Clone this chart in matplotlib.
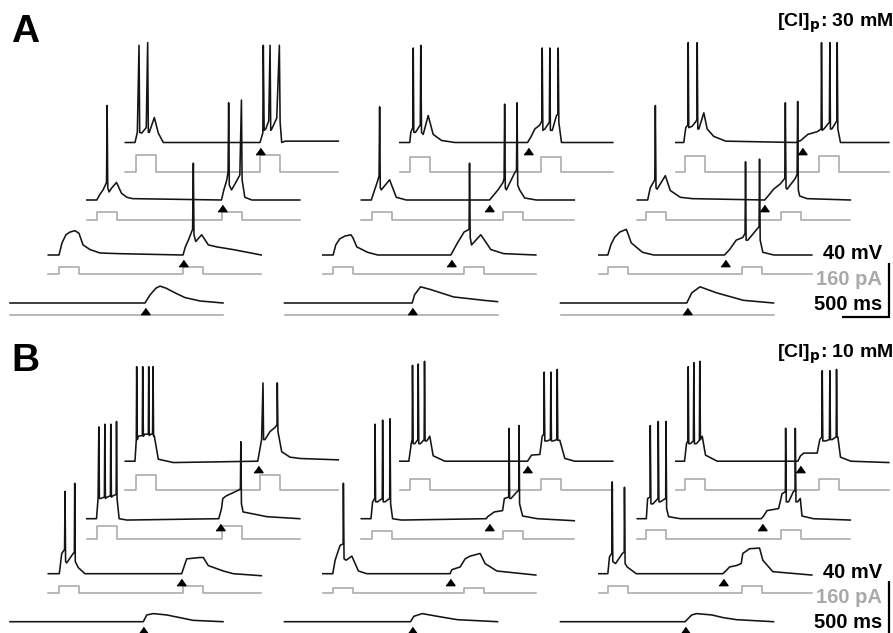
import numpy as np
import matplotlib
import matplotlib.pyplot as plt
matplotlib.use('Agg')

plt.rcParams['font.family'] = ['Liberation Sans', 'DejaVu Sans']

# scale of the figure (taken from the scale bars)
MS_PER_PX = 500 / 47
MV_PER_PX = 40 / 54
PA_TO_MV = 40 / 160      # 160 pA shares the 40 mV bar

# protocol
TRACE_MS = 2266
STEP_WIDTH_MS = 213
STEP1_MS = [112, 110, 96]
STEP2_MS = [1436, 1507, 1528]
STIM_MS_A = [1433, 1359, 1343]
STIM_MS_B = [1415, 1357, 1322]
STEP_PA_A = [[0, 21, 25, 49], [0, 21, 24, 44], [0, 23, 25, 46]]
STEP_PA_B = [[0, 20, 38, 47], [0, 15, 23, 33], [0, 22, 26, 35]]
CL_LABELS = ['30 mM', '10 mM']

# voltage traces: (ms from trace start, mV above rest)
# panel A, [Cl]p 30 mM
A_c1_r1 = [(0, 0), (1436, 0), (1490, 6), (1553, 11), (1596, 12.5), (1660, 11), (1756, 7.5),
           (1862, 4), (2022, 1.5), (2266, 0)]
A_c1_r2 = [(0, 0), (114, 0), (146, 9), (188, 15), (231, 17), (284, 18), (327, 16), (369, 7.5),
           (444, 4), (550, 1.5), (745, 1), (1433, 0), (1458, 6), (1490, 11), (1535, 19), (1543, 68),
           (1550, 15), (1568, 10), (1632, 15), (1702, 7.5), (1792, 6), (1968, 4), (2266, 0)]
A_c1_r3 = [(0, 0), (106, 0), (138, 4), (173, 7.5), (210, 13), (216, 70), (223, 9), (237, 6),
           (266, 9), (316, 13), (369, 5), (426, 2), (489, 1), (1433, 0), (1458, 7.5), (1490, 15),
           (1503, 21), (1509, 72), (1516, 11), (1540, 7.5), (1585, 13), (1628, 18.5), (1645, 74),
           (1652, 15), (1681, 2), (1756, 0), (2266, 0)]
A_c1_r4 = [(0, 0), (103, 0), (128, 7.5), (146, 72), (153, 7.5), (174, 7), (223, 11), (238, 74),
           (245, 7.5), (255, 7.5), (309, 18.5), (351, 7), (404, 0), (1433, 0), (1463, 7), (1468, 72),
           (1477, 9), (1494, 10), (1526, 16), (1540, 72), (1547, 9), (1558, 10), (1611, 18),
           (1639, 72), (1647, 15), (1664, 0), (1702, 1), (2266, 1)]
A_c2_r1 = [(0, 0), (1359, 0), (1383, 6), (1447, 12), (1553, 10), (1798, 4.5), (2117, 2), (2266, 1)]
A_c2_r2 = [(0, 0), (110, 0), (138, 7.5), (181, 12), (234, 14), (298, 15), (319, 13), (362, 6),
           (476, 2), (585, 0), (1362, 0), (1433, 9), (1503, 17), (1556, 19), (1561, 68), (1568, 13),
           (1582, 7.5), (1681, 15), (1788, 4), (1926, 1), (2266, 0)]
A_c2_r3 = [(0, 0), (106, 0), (142, 7.5), (178, 15), (189, 18), (195, 69), (202, 9), (213, 7.5),
           (301, 15), (372, 2), (479, 0), (1365, 0), (1454, 7.5), (1508, 13), (1519, 16), (1525, 71),
           (1532, 9), (1543, 7.5), (1631, 20), (1651, 22), (1657, 72), (1664, 11), (1684, 7.5),
           (1738, 1.5), (1862, 0), (2266, 0)]
A_c2_r4 = [(0, 0), (106, 0), (117, 7.5), (138, 11), (143, 70), (149, 7.5), (167, 7.5), (218, 13),
           (223, 72), (231, 7.5), (249, 6), (302, 20), (355, 6), (444, 1.5), (585, 0), (1359, 0),
           (1394, 4), (1436, 10), (1490, 13), (1511, 16), (1515, 70), (1522, 9), (1543, 10),
           (1591, 15), (1596, 70), (1602, 9), (1622, 9), (1667, 20), (1682, 21), (1685, 70),
           (1692, 15), (1720, 0), (2266, 0)]
A_c3_r1 = [(0, 0), (1343, 0), (1396, 7.5), (1484, 12), (1662, 7.5), (1945, 2), (2266, 0)]
A_c3_r2 = [(0, 0), (96, 0), (128, 7.5), (167, 13), (223, 17), (292, 19), (309, 16), (345, 9),
           (465, 2), (585, 0), (1337, 0), (1391, 4), (1462, 11), (1532, 13), (1556, 16), (1561, 69),
           (1567, 11), (1585, 11), (1675, 18.5), (1705, 21), (1710, 71), (1717, 11), (1745, 2),
           (1862, 0), (2266, 0)]
A_c3_r3 = [(0, 0), (110, 0), (138, 9), (186, 15), (192, 70), (199, 9), (210, 8), (298, 18),
           (351, 7), (458, 2), (585, 1), (1355, 0), (1380, 2), (1450, 8), (1522, 12), (1569, 16),
           (1575, 72), (1582, 9), (1593, 8), (1681, 16), (1700, 19), (1706, 73), (1713, 7.5),
           (1727, 3), (1806, 1), (2266, 0)]
A_c3_r4 = [(0, 0), (85, 0), (106, 11), (128, 13), (132, 74), (138, 11), (174, 12), (213, 15.5),
           (225, 17), (228, 74), (234, 10), (245, 10), (298, 22), (334, 10), (404, 4.5), (532, 1),
           (1277, 0), (1330, 1.5), (1404, 6), (1504, 8), (1546, 10), (1550, 74), (1557, 9),
           (1575, 10), (1634, 15), (1639, 74), (1645, 10), (1660, 10), (1713, 16), (1717, 74),
           (1724, 10), (1752, 0), (2266, 0)]

# panel B, [Cl]p 10 mM
B_c1_r1 = [(0, 0), (1418, 0), (1455, 5), (1525, 6), (1667, 5), (1809, 3), (1947, 1), (2266, 0)]
B_c1_r2 = [(0, 0), (117, 0), (143, 15), (173, 18), (178, 61), (184, 9), (196, 8), (255, 14),
           (277, 16), (281, 67), (287, 9), (319, 4.5), (390, 0), (1419, 0), (1455, 7.5), (1473, 11),
           (1614, 12), (1649, 12), (1702, 6), (1862, 2), (1968, 0), (2266, -1.5)]
B_c1_r3 = [(0, 0), (103, 0), (120, 15), (128, 68), (134, 15), (149, 15), (187, 16), (192, 70),
           (198, 15), (216, 16), (251, 17), (255, 70), (262, 16), (280, 17), (312, 18), (316, 72),
           (322, 15), (344, 0), (426, -1), (1404, 0), (1433, 7.5), (1447, 15), (1486, 17),
           (1610, 21), (1634, 22), (1639, 57), (1645, 11), (1663, 5), (1809, 3), (1915, 1.5),
           (2266, 0)]
B_c1_r4 = [(0, 0), (103, 0), (117, 16), (121, 70), (128, 16), (138, 18.5), (181, 19), (185, 70),
           (192, 18.5), (206, 20), (245, 20), (249, 70), (255, 19), (270, 20), (290, 20), (295, 70),
           (301, 18.5), (309, 18.5), (351, 1.5), (511, -1), (1409, 0), (1450, 16), (1465, 58),
           (1471, 16), (1486, 16), (1540, 22), (1593, 25), (1614, 27), (1617, 58), (1624, 22),
           (1664, 7), (1752, 3), (1862, 2), (2266, 1)]
B_c2_r1 = [(0, 0), (1341, 0), (1376, 4), (1465, 6), (1625, 4), (1838, 1.5), (2266, 0)]
B_c2_r2 = [(0, 0), (106, 0), (131, 10), (184, 21), (216, 22), (219, 67), (226, 11), (248, 10),
           (309, 13), (379, 2), (468, 0), (1354, 0), (1373, 3), (1461, 5), (1514, 11), (1567, 13),
           (1674, 15), (1727, 7.5), (1851, 2), (2266, -1)]
B_c2_r3 = [(0, 0), (103, 0), (120, 12.5), (143, 15), (146, 70), (152, 12.5), (173, 12.5),
           (223, 15), (227, 73), (233, 12.5), (252, 12.5), (302, 15), (305, 74), (312, 11),
           (333, 0), (426, -1), (1330, 0), (1344, 1.5), (1415, 5), (1503, 6), (1522, 15),
           (1568, 16), (1572, 67), (1578, 15), (1593, 15), (1657, 20), (1675, 21), (1678, 69),
           (1684, 11), (1716, 2), (1873, 0), (2266, -1.5)]
B_c2_r4 = [(0, 0), (96, 0), (124, 14), (132, 16), (135, 71), (142, 13), (160, 13), (192, 16),
           (196, 72), (202, 13), (220, 13), (259, 16), (263, 74), (269, 15), (287, 15), (319, 18.5),
           (355, 4), (479, 0), (1359, 0), (1401, 4.5), (1490, 5), (1515, 18.5), (1532, 20),
           (1536, 66), (1543, 15), (1568, 15), (1602, 16), (1607, 66), (1613, 15), (1632, 15),
           (1670, 16), (1675, 68), (1681, 15.5), (1702, 15.5), (1756, 2), (1862, 0), (2266, 0)]
B_c3_r1 = [(0, 0), (1325, 0), (1396, 5), (1449, 6), (1609, 5), (1732, 3), (1873, 1.5), (2266, 0)]
B_c3_r2 = [(0, 0), (96, 0), (114, 12.5), (138, 15), (143, 68), (149, 9), (178, 7.5), (251, 15),
           (270, 16), (273, 64), (280, 7.5), (302, 5), (398, 0), (1319, 0), (1351, 2), (1391, 5),
           (1462, 6), (1515, 7.5), (1532, 15), (1604, 18.5), (1710, 19), (1745, 10), (1851, 1.5),
           (2266, -1)]
B_c3_r3 = [(0, 0), (96, 0), (110, 15), (135, 16), (138, 69), (145, 11), (167, 11), (220, 15),
           (223, 72), (230, 12.5), (245, 12.5), (302, 15), (305, 72), (312, 7.5), (333, 1.5),
           (458, 0), (1319, 0), (1344, 2), (1380, 6), (1503, 7.5), (1540, 18.5), (1575, 20),
           (1578, 67), (1585, 12.5), (1610, 12.5), (1660, 20), (1678, 21), (1681, 67), (1688, 12.5),
           (1706, 12.5), (1734, 15), (1752, 2), (1873, 0), (2266, -1)]
B_c3_r4 = [(0, 0), (93, 0), (114, 13), (128, 15), (132, 70), (138, 13), (156, 13), (187, 15),
           (192, 73), (198, 13), (220, 13), (251, 15.5), (255, 74), (262, 16), (281, 18.5),
           (316, 4.5), (440, 0), (1298, 0), (1327, 4), (1362, 6), (1504, 6), (1532, 16), (1553, 18),
           (1558, 67), (1564, 15), (1593, 15), (1634, 16), (1639, 67), (1645, 16), (1664, 16),
           (1706, 18), (1710, 68), (1716, 18), (1724, 18), (1752, 3), (1862, 0), (2266, -1)]

TRACES_A = [[A_c1_r1, A_c1_r2, A_c1_r3, A_c1_r4],
            [A_c2_r1, A_c2_r2, A_c2_r3, A_c2_r4],
            [A_c3_r1, A_c3_r2, A_c3_r3, A_c3_r4]]
TRACES_B = [[B_c1_r1, B_c1_r2, B_c1_r3, B_c1_r4],
            [B_c2_r1, B_c2_r2, B_c2_r3, B_c2_r4],
            [B_c3_r1, B_c3_r2, B_c3_r3, B_c3_r4]]

# layout in pixels of the 893x633 figure
W, H = 893, 633
COL_X = [10, 284.5, 560.5]
ROW_DX = [0, 38.3, 76.8, 115.3]
V_BASE = [303, 255, 200, 142.5]
I_BASE = [315, 274.3, 220, 171.7]
PANEL_DY = [0, 318.7]

GREY = '#a9a9a9'
TRI = [(-1, -0.7), (1, -0.7), (0, 0.7)]


def px_x(x):
    return x * MS_PER_PX


def px_y(y):
    return -y * MV_PER_PX


fig = plt.figure(figsize=(W / 100, H / 100), dpi=100)
ax = fig.add_axes([0, 0, 1, 1])
ax.set_xlim(0, px_x(W))
ax.set_ylim(px_y(H), 0)
ax.axis('off')

panels = [(TRACES_A, STEP_PA_A, STIM_MS_A), (TRACES_B, STEP_PA_B, STIM_MS_B)]
for p, (traces, steps, stims) in enumerate(panels):
    dy = PANEL_DY[p]
    for c in range(3):
        s1, s2, w = STEP1_MS[c], STEP2_MS[c], STEP_WIDTH_MS
        for r in range(4):
            x0 = px_x(COL_X[c] + ROW_DX[r])
            vb = px_y(V_BASE[r] + dy)
            ib = px_y(I_BASE[r] + dy)

            # injected current
            a = steps[c][r] * PA_TO_MV
            ti = np.array([0, s1, s1, s1 + w, s1 + w, s2, s2, s2 + w, s2 + w, TRACE_MS])
            ii = np.array([0, 0, a, a, 0, 0, a, a, 0, 0])
            ax.plot(x0 + ti, ib + ii, color=GREY, lw=1.15, zorder=1)

            # membrane potential
            t, v = np.array(traces[c][r]).T
            ax.plot(x0 + t, vb + v, color='#141414', lw=1.15, zorder=2)

            # synaptic stimulus
            ax.plot(x0 + stims[c], vb - 8 * MV_PER_PX, marker=TRI, ms=6.5,
                    color='black', ls='none', zorder=3)

    # panel letter and chloride label
    ax.text(px_x(11), px_y([42.5, 371][p]), 'AB'[p], fontsize=28, fontweight='bold',
            ha='left', va='baseline')
    ax.text(px_x(893), px_y(27 + [0, 331][p]),
            r'[Cl]$_\mathbf{p}$: ' + CL_LABELS[p], fontsize=14, fontweight='bold',
            ha='right', va='baseline')

    # scale bar: 40 mV / 160 pA and 500 ms
    xb = px_x(889)
    yb = px_y(316.7 + dy)
    ax.plot([xb - 500, xb, xb], [yb, yb, yb + 40], color='black', lw=1.6,
            solid_joinstyle='miter', solid_capstyle='butt', clip_on=False)
    ax.text(px_x(882), px_y(259 + dy), '40 mV', fontsize=14.5, fontweight='bold',
            ha='right', va='baseline')
    ax.text(px_x(882), px_y(284.5 + dy), '160 pA', fontsize=14.5, fontweight='bold',
            color=GREY, ha='right', va='baseline')
    ax.text(px_x(882), px_y(309.5 + dy), '500 ms', fontsize=14.5, fontweight='bold',
            ha='right', va='baseline')

fig.savefig('out.png', dpi=100)
